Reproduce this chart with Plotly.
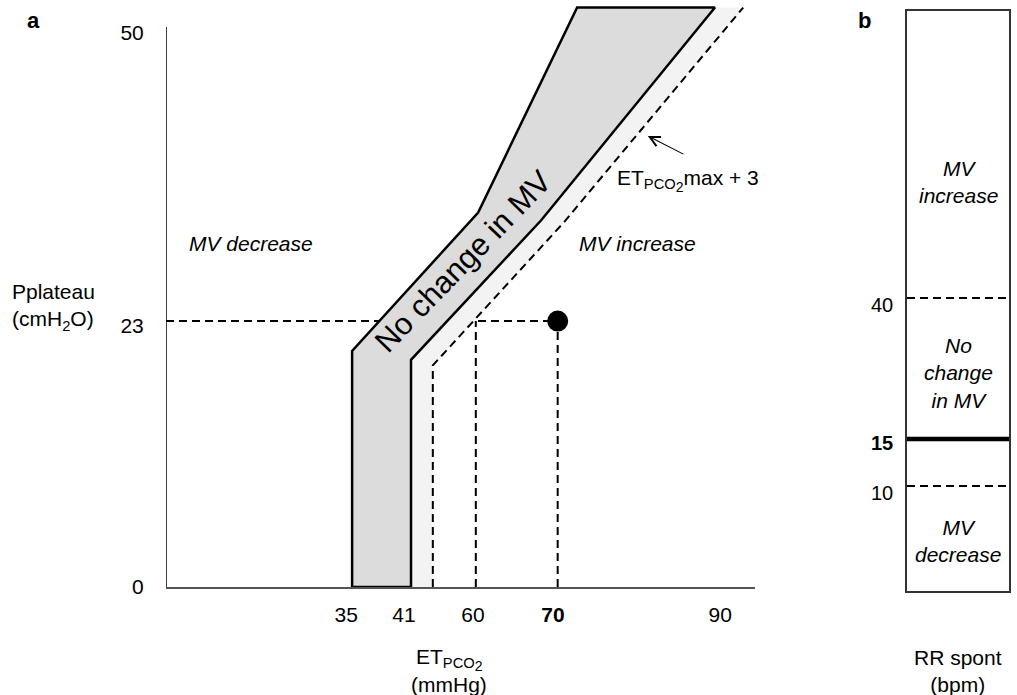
import plotly.graph_objects as go

FONT = "Liberation Sans, Arial, Helvetica, sans-serif"
W, H = 1017, 695

# ---------------- Panel a data (schematic diagram units) ----------------
x_tick_labels = ["35", "41", "60", "<b>70</b>", "90"]
x_tick_pos = [30.6, 40.4, 52.1, 65.7, 94.1]
y_tick_labels = ["0", "23", "50"]
y_tick_pos = [0, 23.6, 50]

# "No change in MV" band (gray)
band_x = [31.6, 31.6, 53.0, 69.8, 93.2, 63.7, 41.6, 41.6]
band_y = [0, 21.3, 33.8, 52.3, 52.3, 33.1, 20.5, 0]
# light margin band up to ETPCO2max + 3
margin_x = [41.6, 41.6, 63.7, 93.2, 98.0, 67.7, 45.3, 45.3]
margin_y = [0, 20.5, 33.1, 52.3, 52.3, 33.0, 20.0, 0]
# ETPCO2max + 3 dashed boundary
max3_x = [45.3, 45.3, 67.7, 98.0]
max3_y = [0, 20.0, 33.0, 52.3]
# patient point (ETPCO2 70, Pplateau 23) and guide lines
pt_x = [66.5]
pt_y = [24.0]
guide_h_x = [0, 66.5]
guide_h_y = [24.0, 24.0]
guide_v60_x = [52.6, 52.6]
guide_v70_x = [66.5, 66.5]
guide_v_y = [0, 24.0]
y_axis_top = 50.54

# ---------------- Panel b data ----------------
rr_tick_labels = ["10", "<b>15</b>", "40"]
rr_tick_pos = [16.9, 25.5, 49.3]
rr_line_10 = 18.1
rr_line_15 = 26.2
rr_line_40 = 50.5

DASH = "8px,5px"
SUB2 = "<sub>PCO<sub><span style='font-size:14px'>2</span></sub></sub>"

fig = go.Figure()

# guides (under bands)
for gx, gy in [(guide_h_x, guide_h_y), (guide_v60_x, guide_v_y), (guide_v70_x, guide_v_y)]:
    fig.add_trace(go.Scatter(x=gx, y=gy, mode="lines",
                             line=dict(color="black", width=2, dash=DASH), hoverinfo="skip"))
# light margin band
fig.add_trace(go.Scatter(x=margin_x, y=margin_y, mode="lines", fill="toself",
                         fillcolor="#f2f3f2", line=dict(width=0, color="rgba(0,0,0,0)"),
                         hoverinfo="skip"))
# gray band
fig.add_trace(go.Scatter(x=band_x + [band_x[0]], y=band_y + [band_y[0]], mode="lines",
                         fill="toself", fillcolor="#dcdcdc",
                         line=dict(color="black", width=2.5), hoverinfo="skip"))
# ETPCO2max+3 dashed
fig.add_trace(go.Scatter(x=max3_x, y=max3_y, mode="lines",
                         line=dict(color="black", width=2, dash=DASH), hoverinfo="skip"))
# patient point
fig.add_trace(go.Scatter(x=pt_x, y=pt_y, mode="markers",
                         marker=dict(color="black", size=21), hoverinfo="skip"))

# panel b lines
for yv, w, d in [(rr_line_40, 2, DASH), (rr_line_15, 4.5, "solid"), (rr_line_10, 2, DASH)]:
    fig.add_trace(go.Scatter(x=[0, 1], y=[yv, yv], mode="lines", xaxis="x2", yaxis="y2",
                             line=dict(color="black", width=w, dash=d), hoverinfo="skip"))


def px(x):
    return x / W


def py(y):
    return 1 - y / H


def paper_text(text, x, y, xanchor="center", size=21, align="center"):
    return dict(text=text, x=px(x), y=py(y), xref="paper", yref="paper", showarrow=False,
                xanchor=xanchor, yanchor="middle", align=align, font=dict(size=size))


annotations = [
    paper_text("<b>a</b>", 33, 20, size=22),
    paper_text("<b>b</b>", 864, 20, size=22),
    paper_text("Pplateau<br>(cmH<sub>2</sub>O)", 10, 307, xanchor="left", align="left"),
    paper_text("ET" + SUB2, 449, 659),
    paper_text("(mmHg)", 449, 684),
    paper_text("RR spont<br>(bpm)", 958, 671),
    # panel a region labels
    dict(text="<i>MV decrease</i>", x=14.4, y=31.0, xref="x", yref="y", showarrow=False),
    dict(text="<i>MV increase</i>", x=80.0, y=31.0, xref="x", yref="y", showarrow=False),
    dict(text="No change in MV", x=50.4, y=29.4, xref="x", yref="y", showarrow=False,
         textangle=-46, font=dict(size=31)),
    dict(text="ET" + SUB2 + "max + 3", x=88.6, y=36.7, xref="x", yref="y",
         showarrow=False),
    dict(text="", x=81.8, y=40.7, ax=88.1, ay=39.0, xref="x", yref="y", axref="x", ayref="y",
         showarrow=True, arrowhead=5, arrowsize=1.8, arrowwidth=1.1, arrowcolor="black"),
    # panel b region labels
    dict(text="<i>MV<br>increase</i>", x=0.5, y=70.5, xref="x2", yref="y2", showarrow=False),
    dict(text="<i>No<br>change<br>in MV</i>", x=0.5, y=37.6, xref="x2", yref="y2",
         showarrow=False),
    dict(text="<i>MV<br>decrease</i>", x=0.5, y=8.6, xref="x2", yref="y2", showarrow=False),
]

shapes = [
    # y axis line of panel a
    dict(type="line", x0=0, x1=0, y0=0, y1=y_axis_top, xref="x", yref="y",
         line=dict(color="black", width=1.5)),
]

fig.update_layout(
    width=W, height=H,
    margin=dict(l=0, r=0, t=0, b=0),
    paper_bgcolor="white", plot_bgcolor="rgba(0,0,0,0)",
    showlegend=False,
    font=dict(family=FONT, size=21, color="black"),
    annotations=annotations,
    shapes=shapes,
    xaxis=dict(domain=[166 / W, 755 / W], range=[0, 100], showgrid=False, zeroline=False,
               showline=True, linecolor="#555", linewidth=2,
               tickvals=x_tick_pos, ticktext=x_tick_labels, ticks="outside", ticklen=8,
               tickcolor="rgba(0,0,0,0)", tickfont=dict(size=21), anchor="y",
               automargin=False, fixedrange=True),
    yaxis=dict(domain=[(H - 587) / H, 1.0], range=[0, 587 / 11.08], showgrid=False,
               zeroline=False, showline=False,
               tickvals=y_tick_pos, ticktext=y_tick_labels, ticks="outside", ticklen=17,
               tickcolor="rgba(0,0,0,0)", tickfont=dict(size=21), anchor="x",
               automargin=False, fixedrange=True),
    xaxis2=dict(domain=[907 / W, 1009 / W], range=[0, 1], showgrid=False, zeroline=False,
                showline=True, mirror=True, linecolor="#333", linewidth=1.5,
                showticklabels=False, ticks="", anchor="y2", automargin=False,
                fixedrange=True),
    yaxis2=dict(domain=[(H - 591) / H, (H - 11) / H], range=[0, 100], showgrid=False,
                zeroline=False, showline=True, mirror=True, linecolor="#333", linewidth=1.5,
                tickvals=rr_tick_pos, ticktext=rr_tick_labels, ticks="outside", ticklen=8,
                tickcolor="rgba(0,0,0,0)", tickfont=dict(size=20), anchor="x2",
                automargin=False, fixedrange=True),
)

fig.write_html(
    "out.html",
    config={"displayModeBar": False},
    post_script="document.body.style.margin='0px';document.body.style.overflow='hidden';",
)
